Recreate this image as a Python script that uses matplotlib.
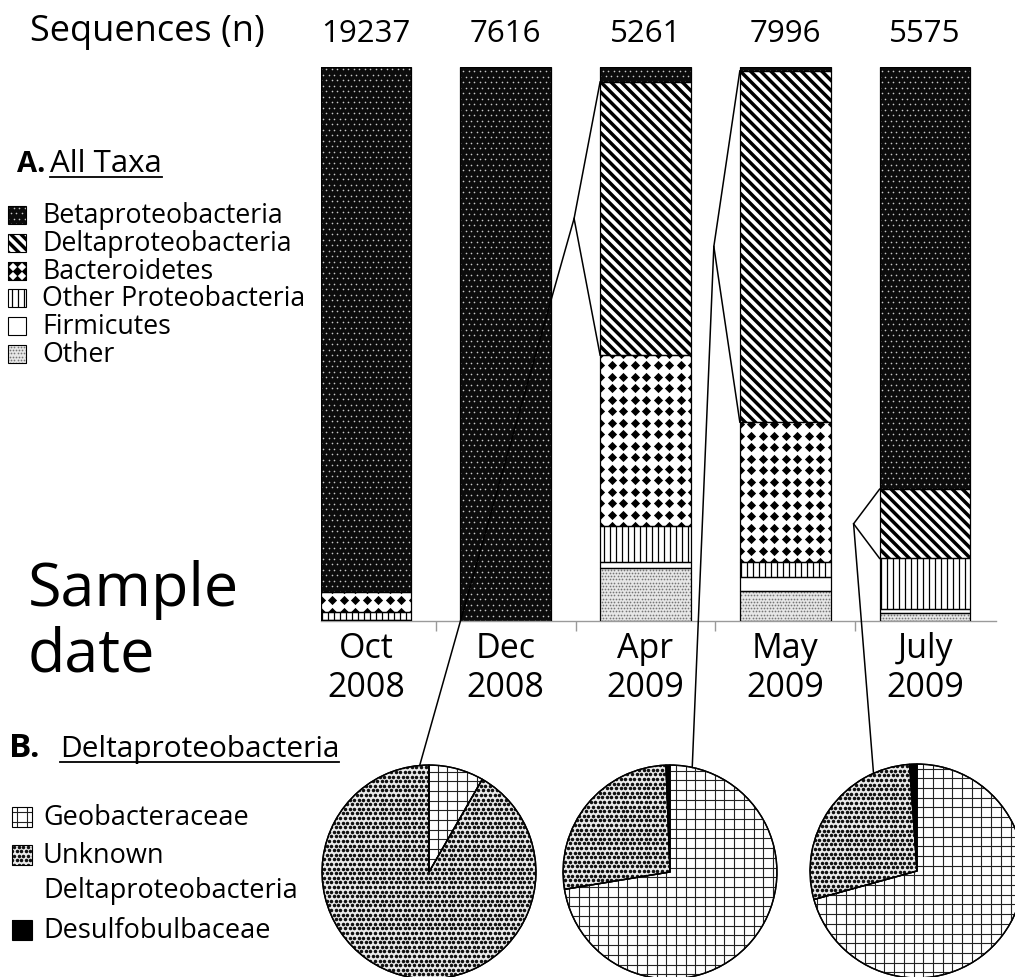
import numpy as np
import matplotlib.pyplot as plt
from matplotlib.collections import LineCollection
from matplotlib.patches import Rectangle, Wedge
from matplotlib.transforms import Affine2D

plt.rcParams['font.family'] = ['Open Sans', 'DejaVu Sans']

# community composition (% of sequences) per sampling date
dates = ['Oct\n2008', 'Dec\n2008', 'Apr\n2009', 'May\n2009', 'July\n2009']
n_seq = [19237, 7616, 5261, 7996, 5575]
beta = [94.7, 100.0, 2.7, 0.7, 76.2]
delta = [0.0, 0.0, 49.3, 63.4, 12.5]
bacteroidetes = [3.6, 0.0, 30.9, 25.3, 0.0]
other_proteo = [1.5, 0.0, 6.5, 2.7, 9.2]
firmicutes = [0.1, 0.0, 1.1, 2.5, 0.7]
other = [0.1, 0.0, 9.5, 5.4, 1.4]

# Deltaproteobacteria breakdown for Apr, May, July
pie_bars = [2, 3, 4]
desulfobulbaceae = [0.0, 0.6, 1.1]
unknown_delta = [91.7, 27.0, 28.2]
geobacteraceae = [8.3, 72.4, 70.7]

W, H = 1015, 977
fig = plt.figure(figsize=(W / 100, H / 100), dpi=100)


def rect(x0, y0, x1, y1):
    # pixel box, origin at top-left -> figure fraction
    return [x0 / W, 1 - y1 / H, (x1 - x0) / W, (y1 - y0) / H]


def dots(ax, patch, step, size, color, marker='o', stagger=True):
    bb = patch.get_window_extent()
    xs = np.arange(bb.x0 - step, bb.x1 + step, step)
    ys = np.arange(bb.y0 - step, bb.y1 + step, step)
    pts = []
    for k, y in enumerate(ys):
        shift = step / 2 if (stagger and k % 2) else 0
        pts += [(x + shift, y) for x in xs]
    pts = np.array(pts)
    sc = ax.scatter(pts[:, 0], pts[:, 1], s=size, c=color, marker=marker,
                    linewidths=0, transform=Affine2D(), zorder=2)
    sc.set_clip_path(patch)


def stripes(ax, patch, step, angle, lw, color='black'):
    bb = patch.get_window_extent()
    c = np.array([bb.x0 + bb.width / 2, bb.y0 + bb.height / 2])
    half = np.hypot(bb.width, bb.height) / 2 + step
    t = np.deg2rad(angle)
    d = np.array([np.cos(t), np.sin(t)])
    n = np.array([-d[1], d[0]])
    segs = [[c + k * n - half * d, c + k * n + half * d]
            for k in np.arange(-half, half, step)]
    lc = LineCollection(segs, colors=color, linewidths=lw,
                        transform=Affine2D(), zorder=2)
    ax.add_collection(lc, autolim=False)
    lc.set_clip_path(patch)


# fill styles for each group
def fill_beta(ax, p):
    p.set_facecolor('#0c0c0c')
    dots(ax, p, 5.5, 1.4, '#c8c8c8')


def fill_delta(ax, p):
    p.set_facecolor('white')
    stripes(ax, p, 7.2, -45, 2.5)


def fill_bact(ax, p, step=11.5, size=22):
    p.set_facecolor('white')
    dots(ax, p, step, size, 'black', marker='D', stagger=False)


def fill_op(ax, p):
    p.set_facecolor('white')
    stripes(ax, p, 6.0, 90, 0.9)


def fill_firm(ax, p):
    p.set_facecolor('white')


def fill_other(ax, p):
    p.set_facecolor('#e6e6e6')
    dots(ax, p, 3.2, 1.5, '#777777')


def fill_geo(ax, p, step=9.7):
    p.set_facecolor('white')
    stripes(ax, p, step, 0, 0.8, '#222222')
    stripes(ax, p, step, 90, 0.8, '#222222')


def fill_unknown(ax, p):
    p.set_facecolor('#eeeeee')
    dots(ax, p, 4.6, 6.5, '#111111')


def fill_desulfo(ax, p):
    p.set_facecolor('black')


# ---- stacked bars ----
bar_w = 0.65
ax = fig.add_axes(rect(321, 67, 996, 621))
ax.set_xlim(-0.322, 4.508)
ax.set_ylim(0, 100)
x = np.arange(len(dates))

layers = [(other, fill_other), (firmicutes, fill_firm),
          (other_proteo, fill_op), (bacteroidetes, fill_bact),
          (delta, fill_delta), (beta, fill_beta)]
bottom = np.zeros(len(dates))
for values, fill in layers:
    values = np.array(values)
    bars = ax.bar(x, values, bar_w, bottom=bottom, linewidth=0, zorder=1)
    for b, v in zip(bars, values):
        if v > 0:
            fill(ax, b)
        else:
            b.set_visible(False)
    ax.bar(x, np.where(values > 0, values, np.nan), bar_w, bottom=bottom,
           fill=False, edgecolor='black', linewidth=0.9, zorder=3)
    bottom += values

for s in ['top', 'left', 'right']:
    ax.spines[s].set_visible(False)
ax.spines['bottom'].set_color('#9a9a9a')
ax.spines['bottom'].set_linewidth(1.0)
ax.set_yticks([])
ax.set_xticks(x, dates, fontsize=24.5, linespacing=1.2)
ax.set_xticks(x[:-1] + 0.5, minor=True)
ax.tick_params(axis='x', which='major', length=0, pad=8)
ax.tick_params(axis='x', which='minor', length=7, color='#9a9a9a', width=1)

for i, n in enumerate(n_seq):
    ax.text(i, 1.06, str(n), transform=ax.get_xaxis_transform(),
            ha='center', va='center', fontsize=22.5)

# ---- pies ----
pie_centers = [(429, 872), (670, 872), (917, 871)]
pie_axes = []
r = 108
for k, (cx, cy) in enumerate(pie_centers):
    pax = fig.add_axes(rect(cx - r, cy - r, cx + r, cy + r))
    vals = [desulfobulbaceae[k], unknown_delta[k], geobacteraceae[k]]
    wedges, _ = pax.pie(vals, startangle=90, counterclock=True,
                        wedgeprops=dict(edgecolor='black', linewidth=1.0))
    pax.set_xlim(-1.01, 1.01)
    pax.set_ylim(-1.01, 1.01)
    for w, fill, v in zip(wedges, [fill_desulfo, fill_unknown, fill_geo], vals):
        w.set_zorder(1)
        if v > 0:
            fill(pax, w)
            pax.add_patch(Wedge(w.center, w.r, w.theta1, w.theta2, fill=False,
                                edgecolor='black', linewidth=1.0, zorder=3))
    pie_axes.append(pax)

# ---- overlay in pixel coordinates: text, legends, connectors ----
top = fig.add_axes([0, 0, 1, 1], zorder=10)
top.set_xlim(0, W)
top.set_ylim(H, 0)
top.axis('off')

top.text(30, 32, 'Sequences (n)', fontsize=26, va='center')
top.text(28, 590, 'Sample', fontsize=44, va='center')
top.text(28, 655, 'date', fontsize=44, va='center')

top.text(17, 172, 'A.', fontsize=21, fontweight='bold', va='baseline')
title_a = top.text(50, 172, 'All Taxa', fontsize=22.5, va='baseline')
top.text(9, 757, 'B.', fontsize=24, fontweight='bold', va='baseline')
title_b = top.text(60, 757, 'Deltaproteobacteria', fontsize=21.5, va='baseline')

legend_a = [('Betaproteobacteria', fill_beta), ('Deltaproteobacteria', fill_delta),
            ('Bacteroidetes', lambda a, p: fill_bact(a, p, 9, 24)),
            ('Other Proteobacteria', fill_op), ('Firmicutes', fill_firm),
            ('Other', fill_other)]
for k, (label, fill) in enumerate(legend_a):
    y = 215 + k * 27.8
    sq = Rectangle((8, y - 9), 18, 18, linewidth=0, zorder=1)
    top.add_patch(sq)
    fill(top, sq)
    top.add_patch(Rectangle((8, y - 9), 18, 18, fill=False, edgecolor='black',
                            linewidth=0.8, zorder=3))
    top.text(42, y + 8, label, fontsize=19.2, va='baseline')

legend_b = [('Geobacteraceae', 817, lambda a, p: fill_geo(a, p, 9.5)),
            ('Unknown', 855, fill_unknown), ('Desulfobulbaceae', 930, fill_desulfo)]
for label, y, fill in legend_b:
    sq = Rectangle((12, y - 10), 20, 20, linewidth=0, zorder=1)
    top.add_patch(sq)
    fill(top, sq)
    top.add_patch(Rectangle((12, y - 10), 20, 20, fill=False, edgecolor='black',
                            linewidth=0.8, zorder=3))
    top.text(43, y + 8, label, fontsize=19.5, va='baseline')
top.text(43, 898, 'Deltaproteobacteria', fontsize=19.5, va='baseline')

fig.canvas.draw()
to_top = top.transData.inverted()

# underline the panel titles, just under the baseline
for t in [title_a, title_b]:
    bb = t.get_window_extent()
    x0, x1 = to_top.transform([(bb.x0, 0), (bb.x1, 0)])[:, 0]
    yb = t.get_position()[1] + 5
    top.plot([x0, x1], [yb, yb], color='black', lw=1.3)

# connectors from the Deltaproteobacteria segment to each pie
rim_angle = [95, 78, 114]
for k, i in enumerate(pie_bars):
    lo = other[i] + firmicutes[i] + other_proteo[i] + bacteroidetes[i]
    hi = lo + delta[i]
    p_hi = to_top.transform(ax.transData.transform((i - bar_w / 2, hi)))
    p_lo = to_top.transform(ax.transData.transform((i - bar_w / 2, lo)))
    apex = (p_hi[0] - 26, (p_hi[1] + p_lo[1]) / 2)
    a = np.deg2rad(rim_angle[k])
    p_pie = to_top.transform(pie_axes[k].transData.transform((np.cos(a), np.sin(a))))
    top.plot([p_hi[0], apex[0], p_lo[0]], [p_hi[1], apex[1], p_lo[1]],
             color='black', lw=1.1)
    top.plot([apex[0], p_pie[0]], [apex[1], p_pie[1]], color='black', lw=1.1)

fig.savefig('out.png', dpi=100)
